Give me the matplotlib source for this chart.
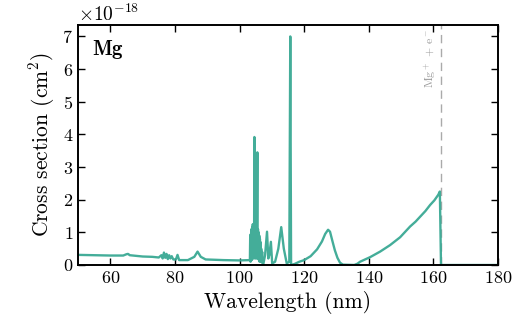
import matplotlib
matplotlib.use('Agg')
import matplotlib.pyplot as plt
import matplotlib.transforms as mtransforms
import numpy as np

plt.rcParams['font.family'] = 'serif'
plt.rcParams['font.serif'] = ['cmr10']
plt.rcParams['mathtext.fontset'] = 'cm'
plt.rcParams['axes.formatter.use_mathtext'] = True
plt.rcParams['axes.unicode_minus'] = False

# wavelength (nm) and cross section (1e-18 cm^2)
wavelength = [
    50, 55, 60, 64, 65, 65.5, 66, 70, 73, 75,
    75.8, 76.2, 76.6, 77.0, 77.4, 77.8, 78.2, 78.6, 79, 79.5,
    80.3, 80.8, 81.3, 84, 86, 87, 88, 89.5, 95, 100,
    103.2, 103.3, 103.4, 103.5, 103.6, 103.7, 103.8, 103.9, 104.0, 104.1,
    104.2, 104.3, 104.4, 104.5, 104.6, 104.7, 104.8, 104.9, 105.0, 105.1,
    105.2, 105.3, 105.5, 105.6, 105.7, 105.8, 105.9, 106.0, 106.1, 106.2,
    106.3, 106.4, 106.5, 106.6, 106.7, 106.8, 107.0, 107.1, 107.3, 107.9,
    108.5, 108.9, 109.2, 109.7, 110.1, 111, 112, 112.9, 113.7, 114.6,
    115.4, 115.7, 115.95, 117, 118.5, 120, 122, 124, 125.5, 126.5,
    127.4, 128.0, 128.7, 129.5, 130.3, 131.1, 132, 135.5, 136.5, 137.3,
    140.4, 143.5, 146.6, 149.7, 152.8, 154.5, 155.9, 157.5, 159, 160.3,
    161.5, 162.0, 162.35, 180,
]
cross_section = [
    0.31, 0.30, 0.29, 0.29, 0.33, 0.34, 0.30, 0.26, 0.25, 0.23,
    0.30, 0.20, 0.38, 0.22, 0.34, 0.18, 0.30, 0.20, 0.27, 0.17,
    0.17, 0.31, 0.15, 0.15, 0.25, 0.41, 0.25, 0.17, 0.15, 0.14,
    0.15, 0.90, 0.10, 0.95, 0.20, 1.10, 0.15, 1.15, 0.20, 1.25,
    0.30, 1.20, 0.20, 0.90, 3.92, 0.30, 1.20, 0.20, 1.10, 0.30,
    1.00, 0.20, 3.45, 0.30, 1.10, 0.20, 1.00, 0.15, 0.90, 0.10,
    0.80, 0.15, 0.70, 0.10, 0.50, 0.10, 0.40, 0.05, 0.00, 0.30,
    1.02, 0.20, 0.30, 0.71, 0.05, 0.10, 0.50, 1.16, 0.50, 0.05,
    0.10, 7.00, 0.00, 0.03, 0.10, 0.15, 0.27, 0.48, 0.72, 0.95,
    1.08, 1.02, 0.75, 0.45, 0.22, 0.07, 0.01, 0.00, 0.04, 0.10,
    0.24, 0.41, 0.61, 0.85, 1.18, 1.33, 1.48, 1.65, 1.84, 1.98,
    2.15, 2.25, 0.00, 0.00,
]
threshold = 162.4

sig = np.array(cross_section) * 1e-18

fig = plt.figure(figsize=(5.25, 3.24), dpi=100)
ax = fig.add_axes([0.1486, 0.1821, 0.8, 0.7407])

ax.axvline(threshold, color='#aaaaaa', lw=1.0, dashes=(6, 4))
trans = mtransforms.blended_transform_factory(ax.transData, ax.transAxes)
ax.text(threshold - 0.6, 0.985, r'Mg$^+$ + e$^-$', transform=trans, rotation=90,
        ha='right', va='top', color='#999999', fontsize=8.5)

ax.plot(wavelength, sig, color='#3aa994', lw=1.7, alpha=0.95)

ax.text(0.033, 0.9, r'$\mathbf{Mg}$', transform=ax.transAxes, fontsize=15,
        ha='left', va='center')

ax.set_xlim(50, 180)
ax.set_ylim(0, 7.35e-18)
ax.set_xticks([60, 80, 100, 120, 140, 160, 180])
ax.set_yticks(np.arange(0, 8) * 1e-18)
ax.set_xlabel('Wavelength (nm)', fontsize=15.5)
ax.set_ylabel(r'Cross section (cm$^2$)', fontsize=15.5)
ax.tick_params(direction='in', top=True, right=True, length=5, width=1,
               labelsize=13)
for s in ax.spines.values():
    s.set_linewidth(1.4)
ax.yaxis.get_offset_text().set_fontsize(14)

fig.savefig('out.png', dpi=100)
